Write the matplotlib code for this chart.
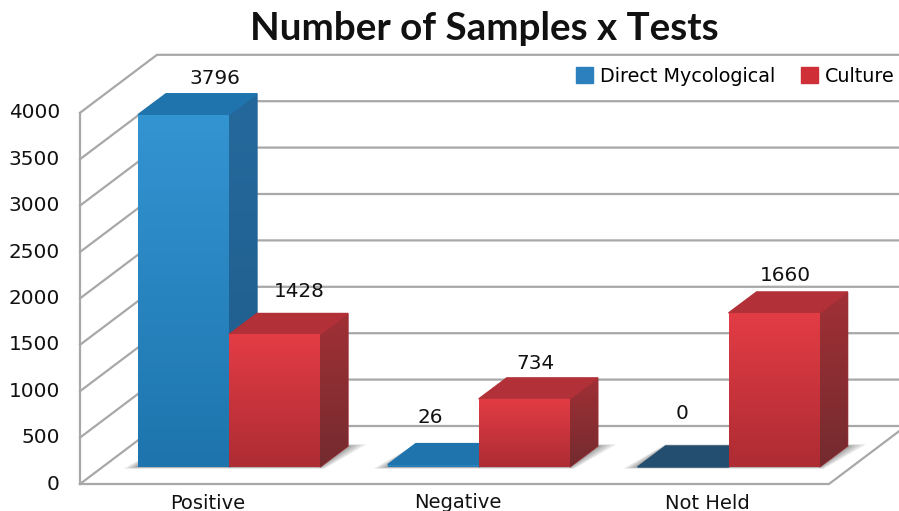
"""Number of samples per test outcome, drawn as a fake 3D column chart."""

import matplotlib

matplotlib.use("Agg")
import matplotlib.pyplot as plt
import numpy as np
from matplotlib.colors import LinearSegmentedColormap
from matplotlib.patches import Patch, Polygon

categories = ["Positive", "Negative", "Not Held"]
direct_mycological = [3796, 26, 0]
culture = [1428, 734, 1660]
y_ticks = [0, 500, 1000, 1500, 2000, 2500, 3000, 3500, 4000]

W, H = 899, 511
CAT_PX = 249.8       # pixels per category
VAL_PX = 0.0928      # pixels per sample
BASE_X, BASE_Y = 229, 467   # pixel of category 0, value 0 on the bars' front plane

GRID = "#a8a8a8"
BLUE = dict(front=("#3394d2", "#1e75ad"), top="#1f74ad", side=("#25699c", "#1f5c8b"))
RED = dict(front=("#e33c45", "#ae2c33"), top="#b23037", side=("#a03036", "#742b2e"))

fig = plt.figure(figsize=(W / 100, H / 100), dpi=100)
ax = fig.add_axes([0, 0, 1, 1])
ax.axis("off")


def dx(px):
    return px / CAT_PX


def dy(px):
    return px / VAL_PX


xlim = (dx(-BASE_X), dx(W - BASE_X))
ylim = (dy(BASE_Y - H), dy(BASE_Y))


def shade(patch, colors, extent, zorder):
    cmap = LinearSegmentedColormap.from_list("f", colors[::-1])
    im = ax.imshow(np.linspace(1, 0, 64).reshape(-1, 1), cmap=cmap, aspect="auto",
                   extent=extent, zorder=zorder, vmin=0, vmax=1)
    im.set_clip_path(patch)


def column(x, width, value, style, zorder):
    bx, by = dx(28), dy(21)
    if value == 0:
        # empty column: only the floor of the box shows
        ax.add_patch(Polygon([(x, 0), (x + width, 0), (x + width + bx, by), (x + bx, by)],
                             color="#234e70", zorder=zorder))
        return
    side = Polygon([(x + width, 0), (x + width + bx, by), (x + width + bx, value + by),
                    (x + width, value)], color=style["side"][0], zorder=zorder)
    ax.add_patch(side)
    shade(side, style["side"], (x + width, x + width + bx, 0, value + by), zorder)
    ax.add_patch(Polygon([(x, value), (x + width, value), (x + width + bx, value + by),
                          (x + bx, value + by)], color=style["top"], zorder=zorder + 0.1))
    bar = ax.bar(x, value, width, align="edge", color=style["front"][0], zorder=zorder + 0.2)[0]
    shade(bar, style["front"], (x, x + width, 0, value), zorder + 0.2)


# walls and floor
wx, wy = dx(77), dy(58)
fx0, fx1 = dx(80 - BASE_X), dx(829 - BASE_X)
fy = dy(BASE_Y - 484)
for t in y_ticks:
    y = fy + t
    ax.plot([fx0, fx0 + wx, xlim[1]], [y, y + wy, y + wy], color=GRID, lw=1.6, zorder=1)
ax.plot([fx0, fx0], [fy, fy + y_ticks[-1]], color=GRID, lw=1.6, zorder=1)
ax.plot([fx0, fx1, fx1 + wx], [fy, fy, fy + wy], color=GRID, lw=1.6, zorder=1)

for t in y_ticks:
    ax.text(dx(60 - BASE_X), fy + t, str(t), ha="right", va="center", fontsize=14.4, color="#111111")

w = dx(91)
for i, cat in enumerate(categories):
    # soft shadow under each group
    for grow in (14, 10, 6, 3):
        g = dx(grow)
        h = dy(grow * 0.12)
        ax.add_patch(Polygon([(i - w - g, -h), (i + w + g * 0.3, -h),
                              (i + w + dx(28) + g * 1.3, dy(21) + h),
                              (i - w + dx(28), dy(21) + h)],
                             facecolor="#000000", edgecolor="none", alpha=0.1, zorder=2))
    column(i - w, w, direct_mycological[i], BLUE, 3)
    column(i, w, culture[i], RED, 4)
    ax.text(i + dx(-21), dy(BASE_Y - 503), cat, ha="center", va="center",
            fontsize=14, color="#111111")

# value labels, nudged by hand like in the original
blue_off = [(31, 36), (-3, 47), (-1, 54)]
red_off = [(25, 43), (11, 35), (11, 37)]
for i in range(len(categories)):
    ax.annotate(str(direct_mycological[i]), (i - w / 2, direct_mycological[i]),
                xytext=blue_off[i], textcoords="offset pixels", ha="center", va="center",
                fontsize=14.4, color="#111111", zorder=6)
    ax.annotate(str(culture[i]), (i + w / 2, culture[i]),
                xytext=red_off[i], textcoords="offset pixels", ha="center", va="center",
                fontsize=14.4, color="#111111", zorder=6)

ax.set_xlim(xlim)
ax.set_ylim(ylim)

handles = [Patch(color="#2b80bd", label="Direct Mycological"), Patch(color="#cf3038", label="Culture")]
ax.legend(handles=handles, ncol=2, frameon=False, fontsize=13.8, handlelength=0.9, handleheight=0.9,
          handletextpad=0.35, columnspacing=1.35, loc="center right",
          bbox_to_anchor=(1.004, 1 - 76 / H), borderaxespad=0)

fig.text(484 / W, 1 - 29 / H, "Number of Samples x Tests", ha="center", va="center",
         fontsize=27.8, fontweight="bold", family="Lato", color="#111111")

fig.savefig("out.png", dpi=100)
